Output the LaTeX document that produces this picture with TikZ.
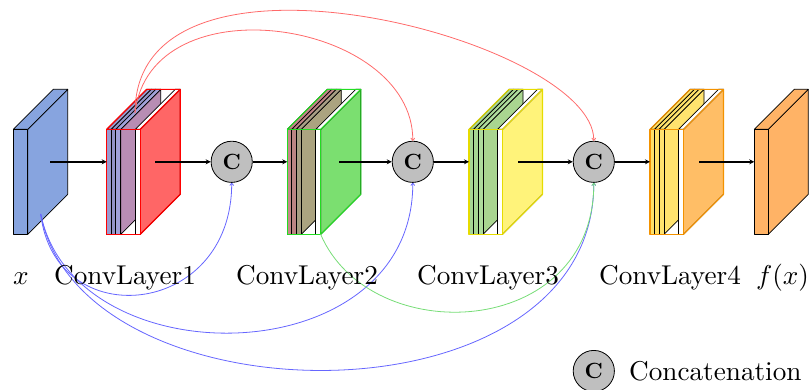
\documentclass[tikz,border=0pt]{standalone}
\usepackage{graphicx}
\usetikzlibrary{arrows.meta}
\definecolor{xblue}{HTML}{87A4DF}
\definecolor{fxor}{HTML}{FFB366}
\definecolor{aA}{HTML}{9A9ACE}\definecolor{aB}{HTML}{9494C8}\definecolor{aC}{HTML}{A2A2DA}\definecolor{aS}{HTML}{B88DB4}\definecolor{aD}{HTML}{FF6666}\definecolor{aE}{HTML}{FF0000}
\definecolor{bA}{HTML}{C48888}\definecolor{bB}{HTML}{BC8484}\definecolor{bC}{HTML}{A89E84}\definecolor{bS}{HTML}{ABA380}\definecolor{bD}{HTML}{7BDF70}\definecolor{bE}{HTML}{22DD22}
\definecolor{cA}{HTML}{A6D694}\definecolor{cB}{HTML}{A6D694}\definecolor{cC}{HTML}{AEDC9C}\definecolor{cS}{HTML}{A9D590}\definecolor{cD}{HTML}{FFF37A}\definecolor{cE}{HTML}{E6DC00}
\definecolor{dA}{HTML}{FFE066}\definecolor{dB}{HTML}{FFE066}\definecolor{dC}{HTML}{FFE36E}\definecolor{dS}{HTML}{FFE36E}\definecolor{dD}{HTML}{FFBE66}\definecolor{dE}{HTML}{F39200}
\definecolor{rcurve}{HTML}{FF6A6A}
\definecolor{bcurve}{HTML}{6666FF}
\definecolor{gcurve}{HTML}{77DD77}
\newcommand{\yt}{129.3}
\newcommand{\yb}{234.3}
\newcommand{\dd}{40}
\newcommand{\bigtxt}[1]{\scalebox{2.72}{#1}}
% #1 x0, #2 x1, #3 front, #4 top, #5 side, #6 edge
\newcommand{\mycub}[6]{%
  \filldraw[fill=#5,draw=#6,boxline] (#2,\yt) -- ({#2+\dd},{\yt-\dd}) -- ({#2+\dd},{\yb-\dd}) -- (#2,\yb) -- cycle;
  \filldraw[fill=#4,draw=#6,boxline] (#1,\yt) -- (#2,\yt) -- ({#2+\dd},{\yt-\dd}) -- ({#1+\dd},{\yt-\dd}) -- cycle;
  \filldraw[fill=#3,draw=#6,boxline] (#1,\yt) rectangle (#2,\yb);
}
\newcommand{\myoutline}[3]{%
  \draw[draw=#3,edgeline] (#1,\yt) rectangle (#2,\yb);
  \draw[draw=#3,edgeline] (#1,\yt) -- ({#1+\dd},{\yt-\dd}) -- ({#2+\dd},{\yt-\dd}) -- ({#2+\dd},{\yb-\dd}) -- (#2,\yb);
  \draw[draw=#3,edgeline] (#2,\yt) -- ({#2+\dd},{\yt-\dd});
}
% #1 x0, #2 prefix letter
\newcommand{\mylayer}[2]{%
  \pgfmathsetmacro\xxa{#1+4.5}%
  \pgfmathsetmacro\xxb{#1+9}%
  \pgfmathsetmacro\xxc{#1+14}%
  \pgfmathsetmacro\xxd{#1+28.5}%
  \pgfmathsetmacro\xxe{#1+33.5}%
  \mycub{#1}{\xxa}{#2A}{#2A}{#2A}{black}
  \mycub{\xxa}{\xxb}{#2B}{#2B}{#2B}{black}
  \mycub{\xxb}{\xxc}{#2C}{#2C}{#2S}{black}
  \mycub{\xxd}{\xxe}{white}{white}{#2D}{black}
  \myoutline{#1}{\xxe}{#2E}
}
\tikzset{
  boxline/.style={line width=0.7pt, line join=round},
  edgeline/.style={line width=1.1pt, line join=round},
  arr/.style={line width=1.6pt, -{Stealth[length=5pt,width=5pt]}},
  lab/.style={anchor=base, inner sep=0pt, font=\fontsize{10}{12}\selectfont},
  cat/.style={circle, draw=black, line width=0.8pt, fill=gray!50, minimum size=41.2pt, inner sep=0pt, font=\fontsize{10}{12}\selectfont\bfseries},
  curve/.style={line width=0.8pt, -{To[length=3pt,width=4.5pt]}},
}
\begin{document}
\begin{tikzpicture}[x=1pt,y=-1pt]
\useasboundingbox (0,0) rectangle (810,389);
% boxes
\mycub{13.3}{27.7}{xblue}{xblue}{xblue}{black}
\mylayer{106.7}{a}
\mylayer{287.3}{b}
\mylayer{469}{c}
\mylayer{650}{d}
\mycub{754.3}{768.3}{fxor}{fxor}{fxor}{black}
% anchor coordinates
\coordinate (xe) at (50,161.8);
\coordinate (l1w) at (106.7,161.8);
\coordinate (l1e) at (155,161.8);
\coordinate (l2w) at (287.3,161.8);
\coordinate (l2e) at (339,161.8);
\coordinate (l3w) at (469,161.8);
\coordinate (l3e) at (518.3,161.8);
\coordinate (l4w) at (650,161.8);
\coordinate (l4e) at (699,161.8);
\coordinate (fw) at (754.3,161.8);
\coordinate (xs) at (40.7,214);
\coordinate (l1n) at (135,113);
\coordinate (l2s) at (320.5,234);
% concat nodes
\node[cat] (c1) at (231.7,161.8) {\scalebox{2.2}{C}};
\node[cat] (c2) at (412.8,161.8) {\scalebox{2.2}{C}};
\node[cat] (c3) at (593.8,161.8) {\scalebox{2.2}{C}};
% main arrows
\draw[arr] (xe) -- (l1w);
\draw[arr] (l1e) -- (c1);
\draw[arr] (c1) -- (l2w);
\draw[arr] (l2e) -- (c2);
\draw[arr] (c2) -- (l3w);
\draw[arr] (l3e) -- (c3);
\draw[arr] (c3) -- (l4w);
\draw[arr] (l4e) -- (fw);
% skip connections
\draw[curve,rcurve] (l1n) .. controls (150,-20) and (412.8,20) .. (c2.north);
\draw[curve,rcurve] (l1n) .. controls (135,-80) and (593.8,40) .. (c3.north);
\draw[curve,bcurve] (xs) .. controls (55,335) and (231.7,318) .. (c1.south);
\draw[curve,bcurve] (xs) .. controls (75,380) and (412.8,375) .. (c2.south);
\draw[curve,bcurve] (xs) .. controls (80,425) and (593.8,430) .. (c3.south);
\draw[curve,gcurve] (l2s) .. controls (370,350) and (593.8,340) .. (c3.south);
% labels
\node[lab] (tx) at (21,284) {\bigtxt{$x$}};
\node[lab] (t1) at (125,284) {\bigtxt{ConvLayer1}};
\node[lab] (t2) at (307,284) {\bigtxt{ConvLayer2}};
\node[lab] (t3) at (488,284) {\bigtxt{ConvLayer3}};
\node[lab] (t4) at (670,284) {\bigtxt{ConvLayer4}};
\node[lab] (tf) at (782.5,284) {\bigtxt{$f(x)$}};
% legend
\node[cat] (lc) at (593.8,371) {\scalebox{2.2}{C}};
\node[lab, anchor=base west] (lt) at (629,380) {\bigtxt{Concatenation}};
\end{tikzpicture}
\end{document}
